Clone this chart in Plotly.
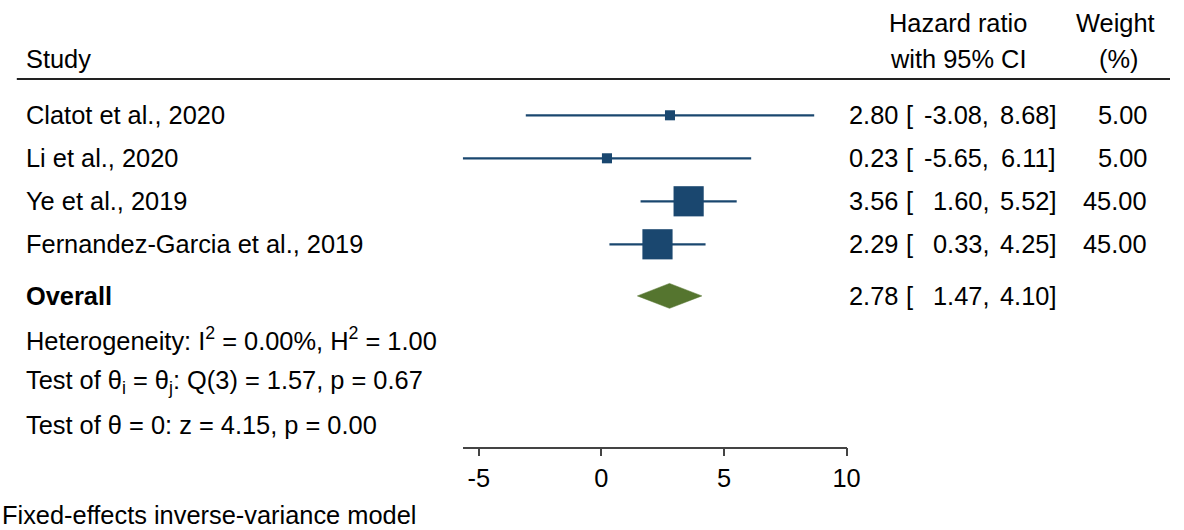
import plotly.graph_objects as go

# Study-level estimates (hazard ratio with 95% CI) and weights
studies = ["Clatot et al., 2020", "Li et al., 2020", "Ye et al., 2019",
           "Fernandez-Garcia et al., 2019"]
hr = [2.80, 0.23, 3.56, 2.29]
ci_low = [-3.08, -5.65, 1.60, 0.33]
ci_high = [8.68, 6.11, 5.52, 4.25]
weights = [5.00, 5.00, 45.00, 45.00]

# Pooled fixed-effects estimate
overall_hr = 2.78
overall_low = 1.47
overall_high = 4.10

stats_lines = [
    "Heterogeneity: I<sup>2</sup> = 0.00%, H<sup>2</sup> = 1.00",
    "Test of θ<sub>i</sub> = θ<sub>j</sub>: Q(3) = 1.57, p = 0.67",
    "Test of θ = 0: z = 4.15, p = 0.00",
]
model_note = "Fixed-effects inverse-variance model"
x_ticks = [-5, 0, 5, 10]

W, H = 1184, 530
FONT = "Liberation Sans, Arial, Helvetica, sans-serif"
FS = 25.4
NAVY = "#1a476f"
GREEN = "#55752f"

# row layout (rows in y-axis units, one unit per study line)
study_rows = list(range(len(studies)))
overall_row = 4.2
stats_rows = [5.2, 6.2, 7.2]
Y_TOP, Y_BOTTOM = -2.681, 9.644


def px(x):
    return x / W


fig = go.Figure()

# confidence interval whiskers
cx, cy = [], []
for lo, hi, r in zip(ci_low, ci_high, study_rows):
    cx += [lo, hi, None]
    cy += [r, r, None]
fig.add_trace(go.Scatter(x=cx, y=cy, mode="lines",
                         line=dict(color=NAVY, width=2.2),
                         hoverinfo="skip", showlegend=False))

# weight-scaled point estimates
fig.add_trace(go.Scatter(
    x=hr, y=study_rows, mode="markers",
    marker=dict(symbol="square", color=NAVY, opacity=1,
                size=[4.5 * w ** 0.5 for w in weights],
                line=dict(width=0)),
    showlegend=False))

# pooled diamond
dh = 0.29
fig.add_trace(go.Scatter(
    x=[overall_low, overall_hr, overall_high, overall_hr, overall_low],
    y=[overall_row, overall_row - dh, overall_row, overall_row + dh, overall_row],
    mode="lines", fill="toself", fillcolor=GREEN,
    line=dict(color=GREEN, width=0.5), showlegend=False))

ann = []


def text(x, y, s, anchor="left"):
    ann.append(dict(x=px(x), y=y, xref="paper", yref="y", text=s,
                    showarrow=False, xanchor=anchor, yanchor="middle",
                    font=dict(family=FONT, size=FS, color="#000000")))


# header
text(24, -1.3, "Study")
text(969, -2.15, "Hazard ratio", "center")
text(969, -1.3, "with 95% CI", "center")
text(1129, -2.15, "Weight", "center")
text(1132, -1.3, "(%)", "center")

# study rows
for name, r, e, lo, hi, w in zip(studies, study_rows, hr, ci_low, ci_high, weights):
    text(24, r, name)
    text(911, r, f"{e:.2f}", "right")
    text(915, r, "[")
    text(1003, r, f"{lo:.2f},", "right")
    text(1071, r, f"{hi:.2f}]", "right")
    text(1163, r, f"{w:.2f}", "right")

# overall row
text(24, overall_row, "<b>Overall</b>")
text(911, overall_row, f"{overall_hr:.2f}", "right")
text(915, overall_row, "[")
text(1003, overall_row, f"{overall_low:.2f},", "right")
text(1071, overall_row, f"{overall_high:.2f}]", "right")

for s, r in zip(stats_lines, stats_rows):
    text(24, r, s)

text(0, 9.3, model_note)

fig.update_layout(
    width=W, height=H,
    autosize=False,
    margin=dict(l=0, r=0, t=0, b=0, pad=0),
    paper_bgcolor="white", plot_bgcolor="white",
    showlegend=False,
    annotations=ann,
    shapes=[dict(type="line", xref="paper", yref="y",
                 x0=px(17), x1=1, y0=-0.844, y1=-0.844,
                 line=dict(color="#222222", width=2))],
    xaxis=dict(domain=[px(468.3), px(856.7)], range=[-5.65, 10],
               anchor="free", position=1 - 447.7 / H,
               tickvals=x_ticks, ticktext=[str(t) for t in x_ticks],
               showgrid=False, zeroline=False,
               showline=True, linecolor="#444444", linewidth=1.5,
               ticks="outside", ticklen=8, tickwidth=1.5, tickcolor="#444444",
               tickfont=dict(family=FONT, size=FS, color="#000000"),
               fixedrange=True),
    yaxis=dict(domain=[0, 1], range=[Y_BOTTOM, Y_TOP],
               visible=False, showgrid=False, zeroline=False,
               fixedrange=True),
)

fig.write_html("out.html", config={"responsive": False, "displayModeBar": False})
